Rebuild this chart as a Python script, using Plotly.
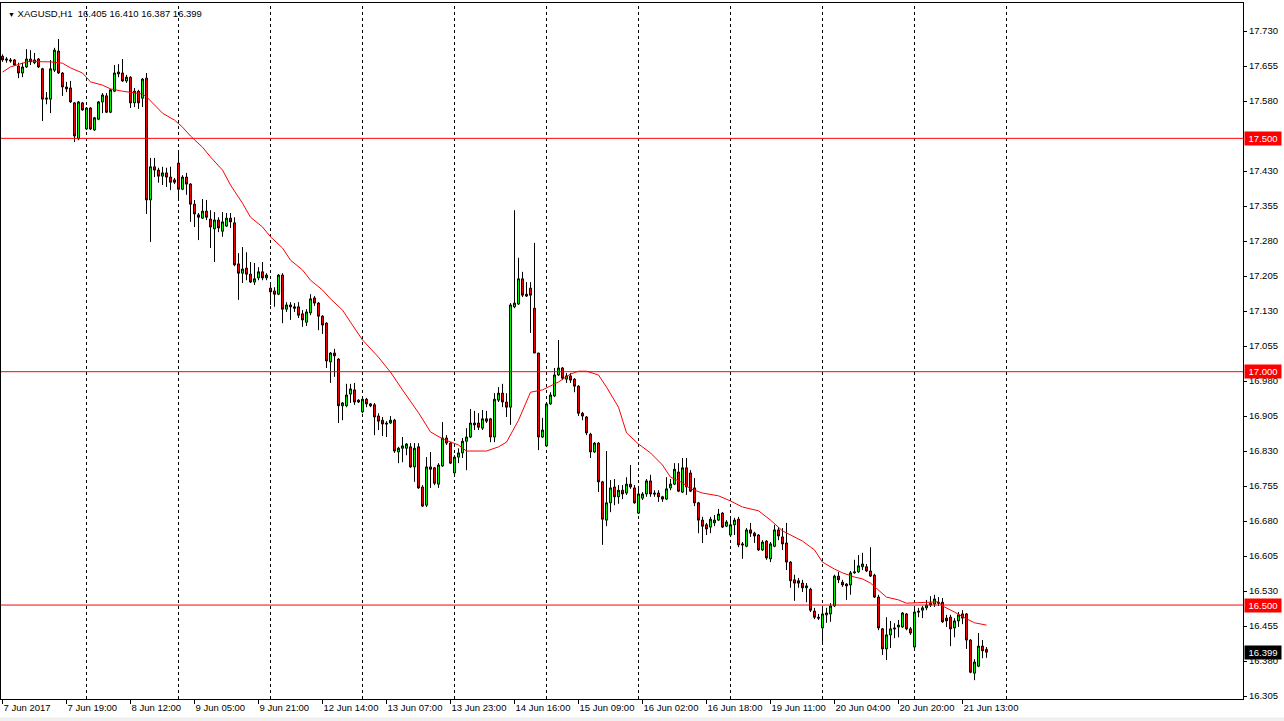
import plotly.graph_objects as go

symbol = "XAGUSD,H1"

opens = [
    17.676, 17.670, 17.668, 17.668, 17.655, 17.640, 17.653, 17.670, 17.662, 17.670,
    17.649, 17.584, 17.584, 17.646, 17.687, 17.640, 17.610, 17.608, 17.576, 17.499,
    17.576, 17.520, 17.565, 17.518, 17.541, 17.578, 17.591, 17.556, 17.601, 17.638,
    17.640, 17.623, 17.631, 17.576, 17.601, 17.586, 17.629, 17.368, 17.439, 17.432,
    17.419, 17.426, 17.417, 17.411, 17.447, 17.391, 17.417, 17.402, 17.359, 17.336,
    17.329, 17.344, 17.327, 17.306, 17.325, 17.301, 17.312, 17.329, 17.319, 17.231,
    17.211, 17.222, 17.209, 17.192, 17.201, 17.214, 17.201, 17.179, 17.173, 17.166,
    17.207, 17.134, 17.143, 17.139, 17.139, 17.124, 17.106, 17.126, 17.158, 17.147,
    17.119, 17.104, 17.021, 17.040, 17.027, 16.927, 16.927, 16.952, 16.961, 16.939,
    16.914, 16.941, 16.931, 16.929, 16.905, 16.896, 16.890, 16.890, 16.896, 16.828,
    16.836, 16.836, 16.839, 16.796, 16.839, 16.753, 16.714, 16.796, 16.794, 16.759,
    16.798, 16.858, 16.847, 16.783, 16.817, 16.826, 16.851, 16.860, 16.890, 16.890,
    16.879, 16.899, 16.899, 16.860, 16.939, 16.954, 16.935, 16.924, 17.139, 17.145,
    17.199, 17.166, 17.179, 17.136, 17.040, 16.860, 16.841, 16.931, 16.948, 16.993,
    17.008, 16.984, 16.991, 16.984, 16.969, 16.911, 16.903, 16.866, 16.828, 16.847,
    16.764, 16.682, 16.719, 16.753, 16.732, 16.746, 16.740, 16.759, 16.751, 16.697,
    16.729, 16.738, 16.766, 16.740, 16.740, 16.732, 16.727, 16.751, 16.759, 16.785,
    16.742, 16.794, 16.783, 16.751, 16.719, 16.682, 16.672, 16.667, 16.676, 16.682,
    16.697, 16.669, 16.650, 16.672, 16.684, 16.631, 16.626, 16.661, 16.654, 16.650,
    16.618, 16.637, 16.599, 16.626, 16.661, 16.646, 16.633, 16.592, 16.554, 16.552,
    16.547, 16.537, 16.534, 16.487, 16.474, 16.451, 16.479, 16.481, 16.498, 16.562,
    16.549, 16.545, 16.543, 16.569, 16.571, 16.582, 16.582, 16.573, 16.564, 16.517,
    16.449, 16.406, 16.436, 16.451, 16.453, 16.453, 16.481, 16.449, 16.410, 16.487,
    16.489, 16.494, 16.500, 16.502, 16.506, 16.506, 16.472, 16.474, 16.451, 16.466,
    16.481, 16.481, 16.425, 16.354, 16.369, 16.412, 16.405,
]

highs = [
    17.680, 17.674, 17.672, 17.670, 17.662, 17.662, 17.691, 17.689, 17.683, 17.672,
    17.651, 17.599, 17.668, 17.694, 17.713, 17.642, 17.621, 17.623, 17.578, 17.580,
    17.578, 17.567, 17.567, 17.546, 17.580, 17.597, 17.597, 17.606, 17.657, 17.659,
    17.670, 17.636, 17.633, 17.608, 17.604, 17.629, 17.640, 17.458, 17.458, 17.437,
    17.439, 17.437, 17.439, 17.415, 17.471, 17.421, 17.426, 17.404, 17.368, 17.340,
    17.370, 17.368, 17.346, 17.342, 17.331, 17.342, 17.340, 17.340, 17.331, 17.254,
    17.267, 17.256, 17.235, 17.233, 17.224, 17.235, 17.211, 17.190, 17.181, 17.209,
    17.211, 17.149, 17.149, 17.147, 17.149, 17.132, 17.134, 17.166, 17.162, 17.149,
    17.121, 17.106, 17.042, 17.049, 17.029, 16.935, 16.974, 16.974, 16.976, 16.941,
    16.946, 16.944, 16.933, 16.933, 16.911, 16.903, 16.894, 16.905, 16.899, 16.839,
    16.860, 16.847, 16.847, 16.847, 16.847, 16.757, 16.817, 16.828, 16.796, 16.804,
    16.892, 16.864, 16.849, 16.821, 16.836, 16.858, 16.879, 16.920, 16.916, 16.911,
    16.918, 16.916, 16.901, 16.954, 16.967, 16.974, 16.954, 17.147, 17.346, 17.244,
    17.214, 17.192, 17.192, 17.276, 17.040, 16.901, 16.935, 16.956, 17.008, 17.068,
    17.010, 16.997, 16.997, 16.986, 16.971, 16.914, 16.905, 16.869, 16.849, 16.849,
    16.766, 16.830, 16.768, 16.770, 16.757, 16.757, 16.774, 16.800, 16.757, 16.751,
    16.742, 16.770, 16.779, 16.746, 16.746, 16.734, 16.774, 16.770, 16.804, 16.804,
    16.815, 16.815, 16.789, 16.772, 16.721, 16.689, 16.676, 16.689, 16.693, 16.706,
    16.699, 16.682, 16.687, 16.687, 16.689, 16.635, 16.665, 16.676, 16.657, 16.652,
    16.639, 16.639, 16.635, 16.672, 16.667, 16.665, 16.676, 16.594, 16.565, 16.558,
    16.554, 16.547, 16.537, 16.494, 16.481, 16.498, 16.494, 16.504, 16.565, 16.571,
    16.554, 16.547, 16.573, 16.597, 16.607, 16.612, 16.588, 16.624, 16.567, 16.522,
    16.451, 16.474, 16.466, 16.461, 16.468, 16.485, 16.483, 16.453, 16.496, 16.494,
    16.498, 16.511, 16.519, 16.522, 16.517, 16.515, 16.479, 16.479, 16.472, 16.485,
    16.489, 16.483, 16.427, 16.384, 16.440, 16.425, 16.410,
]

lows = [
    17.664, 17.662, 17.662, 17.655, 17.629, 17.631, 17.651, 17.657, 17.659, 17.651,
    17.537, 17.573, 17.554, 17.642, 17.638, 17.591, 17.599, 17.576, 17.492, 17.496,
    17.559, 17.518, 17.518, 17.516, 17.539, 17.554, 17.554, 17.554, 17.599, 17.631,
    17.621, 17.619, 17.565, 17.567, 17.563, 17.567, 17.338, 17.278, 17.417, 17.405,
    17.400, 17.396, 17.389, 17.402, 17.372, 17.389, 17.379, 17.321, 17.310, 17.282,
    17.327, 17.325, 17.265, 17.235, 17.299, 17.289, 17.310, 17.308, 17.226, 17.154,
    17.190, 17.196, 17.190, 17.186, 17.196, 17.196, 17.196, 17.143, 17.139, 17.164,
    17.104, 17.128, 17.111, 17.128, 17.115, 17.096, 17.098, 17.121, 17.141, 17.089,
    17.081, 17.008, 16.976, 16.989, 16.890, 16.896, 16.924, 16.933, 16.929, 16.933,
    16.911, 16.924, 16.924, 16.864, 16.875, 16.862, 16.860, 16.888, 16.826, 16.804,
    16.806, 16.821, 16.794, 16.764, 16.749, 16.710, 16.710, 16.751, 16.757, 16.751,
    16.796, 16.843, 16.802, 16.781, 16.804, 16.815, 16.789, 16.858, 16.875, 16.875,
    16.875, 16.890, 16.849, 16.849, 16.935, 16.924, 16.903, 16.886, 17.136, 17.143,
    17.160, 17.160, 17.083, 17.040, 16.832, 16.858, 16.839, 16.929, 16.946, 16.991,
    16.982, 16.976, 16.976, 16.956, 16.905, 16.896, 16.864, 16.815, 16.826, 16.742,
    16.629, 16.669, 16.699, 16.714, 16.717, 16.727, 16.736, 16.749, 16.717, 16.695,
    16.725, 16.732, 16.732, 16.732, 16.721, 16.721, 16.725, 16.746, 16.757, 16.742,
    16.740, 16.736, 16.742, 16.712, 16.654, 16.633, 16.650, 16.654, 16.669, 16.680,
    16.665, 16.667, 16.646, 16.650, 16.624, 16.599, 16.624, 16.646, 16.633, 16.616,
    16.616, 16.597, 16.592, 16.624, 16.639, 16.618, 16.575, 16.537, 16.509, 16.537,
    16.528, 16.506, 16.485, 16.470, 16.468, 16.421, 16.462, 16.464, 16.496, 16.547,
    16.539, 16.511, 16.522, 16.567, 16.569, 16.575, 16.571, 16.560, 16.515, 16.446,
    16.393, 16.382, 16.408, 16.429, 16.431, 16.451, 16.446, 16.436, 16.408, 16.474,
    16.472, 16.489, 16.496, 16.496, 16.498, 16.462, 16.453, 16.412, 16.431, 16.453,
    16.459, 16.406, 16.354, 16.339, 16.367, 16.386, 16.387,
]

closes = [
    17.668, 17.668, 17.666, 17.657, 17.640, 17.653, 17.670, 17.664, 17.668, 17.653,
    17.584, 17.586, 17.649, 17.689, 17.640, 17.610, 17.606, 17.578, 17.505, 17.578,
    17.561, 17.565, 17.520, 17.544, 17.578, 17.593, 17.556, 17.604, 17.640, 17.642,
    17.623, 17.631, 17.576, 17.601, 17.576, 17.627, 17.368, 17.439, 17.432, 17.419,
    17.426, 17.417, 17.406, 17.406, 17.391, 17.417, 17.402, 17.359, 17.338, 17.331,
    17.344, 17.331, 17.310, 17.325, 17.308, 17.321, 17.329, 17.321, 17.229, 17.211,
    17.220, 17.209, 17.192, 17.199, 17.214, 17.201, 17.207, 17.171, 17.166, 17.207,
    17.134, 17.143, 17.139, 17.136, 17.121, 17.111, 17.128, 17.156, 17.147, 17.119,
    17.100, 17.023, 17.040, 17.034, 16.927, 16.933, 16.950, 16.963, 16.935, 16.935,
    16.941, 16.931, 16.927, 16.903, 16.894, 16.888, 16.888, 16.896, 16.830, 16.836,
    16.841, 16.845, 16.796, 16.836, 16.751, 16.712, 16.796, 16.791, 16.761, 16.800,
    16.858, 16.847, 16.804, 16.817, 16.826, 16.851, 16.860, 16.890, 16.886, 16.881,
    16.899, 16.894, 16.860, 16.941, 16.954, 16.935, 16.924, 17.143, 17.147, 17.199,
    17.164, 17.162, 17.164, 17.040, 16.860, 16.875, 16.931, 16.950, 16.993, 17.008,
    16.986, 16.991, 16.982, 16.969, 16.911, 16.905, 16.869, 16.828, 16.847, 16.764,
    16.684, 16.719, 16.751, 16.732, 16.746, 16.738, 16.759, 16.753, 16.719, 16.738,
    16.738, 16.766, 16.738, 16.738, 16.732, 16.727, 16.749, 16.759, 16.791, 16.744,
    16.794, 16.753, 16.744, 16.719, 16.682, 16.669, 16.663, 16.684, 16.682, 16.695,
    16.667, 16.678, 16.672, 16.682, 16.629, 16.629, 16.661, 16.654, 16.648, 16.618,
    16.635, 16.601, 16.631, 16.661, 16.648, 16.631, 16.592, 16.552, 16.547, 16.547,
    16.537, 16.541, 16.489, 16.474, 16.472, 16.481, 16.483, 16.498, 16.562, 16.554,
    16.543, 16.541, 16.569, 16.571, 16.584, 16.588, 16.573, 16.562, 16.517, 16.451,
    16.406, 16.436, 16.449, 16.449, 16.457, 16.483, 16.449, 16.440, 16.485, 16.485,
    16.494, 16.500, 16.504, 16.513, 16.504, 16.464, 16.466, 16.449, 16.466, 16.479,
    16.472, 16.425, 16.356, 16.378, 16.412, 16.402, 16.399,
]

# moving average (red line), read at selected bars
ma_bars = [0, 2, 5, 7, 10, 12, 15, 17, 20, 22, 25, 27, 30, 32, 35, 36, 38, 40, 43, 45,
           47, 50, 52, 55, 57, 60, 62, 65, 67, 70, 72, 75, 77, 80, 82, 85, 87, 90, 94, 97,
           100, 104, 107, 110, 114, 116, 121, 124, 126, 129, 132, 135, 139, 142, 144, 146, 149, 151, 154, 156,
           159, 162, 165, 167, 170, 172, 175, 179, 182, 185, 189, 192, 195, 200, 203, 205, 208, 210, 213, 215,
           217, 219, 221, 224, 226, 234, 235, 238, 240, 243, 246]
ma_values = [17.642, 17.653, 17.661, 17.666, 17.664, 17.664, 17.661, 17.651, 17.640, 17.621,
             17.614, 17.606, 17.601, 17.599, 17.595, 17.589, 17.571, 17.554, 17.539, 17.524,
             17.505, 17.481, 17.460, 17.432, 17.400, 17.361, 17.331, 17.310, 17.289, 17.265,
             17.239, 17.218, 17.196, 17.175, 17.156, 17.132, 17.106, 17.068, 17.031, 16.999,
             16.961, 16.912, 16.871, 16.856, 16.843, 16.830, 16.830, 16.839, 16.849, 16.896,
             16.956, 16.961, 16.978, 16.995, 17.001, 17.001, 16.993, 16.967, 16.924, 16.869,
             16.845, 16.826, 16.800, 16.774, 16.762, 16.749, 16.740, 16.734, 16.723, 16.710,
             16.702, 16.682, 16.659, 16.637, 16.618, 16.592, 16.577, 16.569, 16.560, 16.556,
             16.547, 16.532, 16.517, 16.511, 16.504, 16.507, 16.498, 16.485, 16.475, 16.462,
             16.457]

time_tick_bars = [0, 16, 32, 48, 64, 80, 96, 112, 128, 144, 160, 176, 192, 208, 224, 240]
time_tick_labels = ["7 Jun 2017", "7 Jun 19:00", "8 Jun 12:00", "9 Jun 05:00", "9 Jun 21:00",
                    "12 Jun 14:00", "13 Jun 07:00", "13 Jun 23:00", "14 Jun 16:00", "15 Jun 09:00",
                    "16 Jun 02:00", "16 Jun 18:00", "19 Jun 11:00", "20 Jun 04:00", "20 Jun 20:00",
                    "21 Jun 13:00"]
day_start_bars = [21, 44, 67, 90, 113, 136, 159, 182, 205, 228, 251]

price_ticks = [17.730, 17.655, 17.580, 17.430, 17.355, 17.280, 17.205, 17.130, 17.055,
               16.980, 16.905, 16.830, 16.755, 16.680, 16.605, 16.530, 16.455, 16.380, 16.305]
level_lines = [17.500, 17.000, 16.500]

FONT = "Liberation Sans, Arial, sans-serif"

bars = list(range(len(opens)))

fig = go.Figure()
fig.add_trace(go.Candlestick(
    x=bars, open=opens, high=highs, low=lows, close=closes,
    increasing=dict(fillcolor="#00FF00", line=dict(color="black", width=1)),
    decreasing=dict(fillcolor="#FF0000", line=dict(color="black", width=1)),
    whiskerwidth=0, showlegend=False, hoverinfo="skip",
))
fig.add_trace(go.Scatter(
    x=ma_bars, y=ma_values, mode="lines",
    line=dict(color="#FF0000", width=1), showlegend=False, hoverinfo="skip",
))

shapes = []
for d in day_start_bars:
    shapes.append(dict(type="line", xref="x", yref="paper", x0=d, x1=d, y0=0, y1=1,
                       line=dict(color="black", width=1, dash="3px,3px"), layer="below"))
for lv in level_lines:
    shapes.append(dict(type="line", xref="paper", yref="y", x0=0, x1=1, y0=lv, y1=lv,
                       line=dict(color="#FF0000", width=1), layer="above"))
# bottom window strip
shapes.append(dict(type="rect", xref="paper", yref="paper", x0=-0.01, x1=1.04,
                   y0=-0.0316, y1=-0.0262, line=dict(width=0), fillcolor="#F0F0F0", layer="below"))

annotations = []
header = ("<span style='font-size:7px'>\u25BC</span>\u00a0" + symbol + "\u00a0\u00a0"
          + "\u00a0".join(f"{v:.3f}" for v in (opens[-1], highs[-1], lows[-1], closes[-1])))
annotations.append(dict(xref="paper", yref="paper", x=0, y=1, xanchor="left", yanchor="top",
                        xshift=5, yshift=-3, text=header, showarrow=False,
                        font=dict(family=FONT, size=9.5, color="black")))
for lv in level_lines:
    annotations.append(dict(xref="paper", yref="y", x=1, y=lv, xanchor="left", yanchor="middle",
                            xshift=1, text=f"{lv:.3f}", showarrow=False, bgcolor="#FF0000",
                            width=34, height=11, borderpad=1, align="center",
                            font=dict(family=FONT, size=9.5, color="white")))
annotations.append(dict(xref="paper", yref="y", x=1, y=closes[-1], xanchor="left", yanchor="middle",
                        xshift=1, text=f"{closes[-1]:.3f}", showarrow=False, bgcolor="black",
                        width=34, height=11, borderpad=1, align="center",
                        font=dict(family=FONT, size=9.5, color="white")))

fig.update_layout(
    width=1284, height=721,
    margin=dict(l=1, r=41, t=3, b=22),
    paper_bgcolor="white", plot_bgcolor="white",
    font=dict(family=FONT, size=9.5, color="black"),
    boxgap=0.3,
    shapes=shapes, annotations=annotations,
    xaxis=dict(range=[-0.375, 310.125], showgrid=False, zeroline=False,
               showline=True, linecolor="black", linewidth=1, mirror=True,
               ticks="outside", ticklen=4, tickcolor="black",
               tickvals=time_tick_bars, ticktext=time_tick_labels,
               ticklabelposition="outside right",
               rangeslider=dict(visible=False), fixedrange=True),
    yaxis=dict(side="right", range=[16.2987, 17.790], showgrid=False, zeroline=False,
               showline=True, linecolor="black", linewidth=1, mirror=True,
               ticks="outside", ticklen=3, tickcolor="black",
               tickvals=price_ticks, tickformat=".3f", fixedrange=True),
    hovermode=False,
)

fig.write_html("out.html", config={"displayModeBar": False},
               post_script="document.body.style.margin='0';")
